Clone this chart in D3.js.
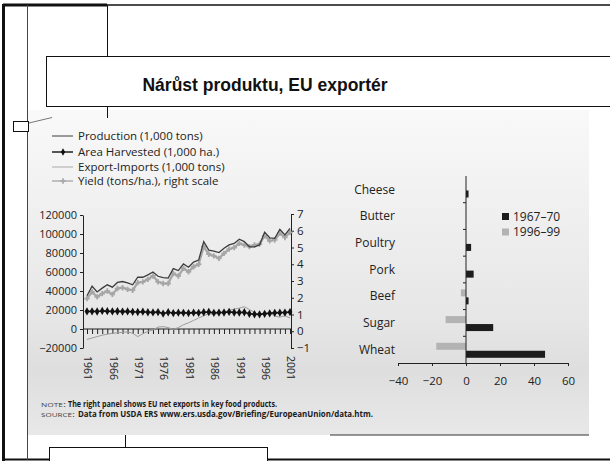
<!DOCTYPE html>
<html>
<head>
<meta charset="utf-8">
<script src="https://cdn.jsdelivr.net/npm/d3@7"></script>
<style>
  body { margin: 0; background: #fff; }
  svg { display: block; font-family: "Open Sans", sans-serif; }
</style>
</head>
<body>
<div id="chart"></div>
<script>
// ─── Data ───
const YEARS = [1961, 1962, 1963, 1964, 1965, 1966, 1967, 1968, 1969, 1970,
  1971, 1972, 1973, 1974, 1975, 1976, 1977, 1978, 1979, 1980,
  1981, 1982, 1983, 1984, 1985, 1986, 1987, 1988, 1989, 1990,
  1991, 1992, 1993, 1994, 1995, 1996, 1997, 1998, 1999, 2000, 2001];

const PRODUCTION = [35000, 45000, 39000, 43000, 46500, 44000, 49000, 50000, 48500, 46500,
  54500, 54500, 57000, 60000, 55500, 54000, 53500, 63500, 61500, 68500,
  65000, 70500, 72500, 92000, 83000, 82000, 80500, 85000, 88500, 90000,
  94500, 92000, 86500, 86500, 88500, 102000, 96000, 95500, 105000, 99000, 106000];

const AREA = [18500, 18600, 18400, 19000, 18800, 18500, 18700, 18300, 18500, 18100,
  17900, 18200, 17600, 17500, 17800, 16200, 17600, 16800, 17200, 17000,
  16800, 17200, 17000, 17600, 17900, 17000, 17300, 17400, 18000, 17400,
  17400, 17600, 16000, 15500, 15400, 16000, 16500, 17000, 17200, 17300, 17800];

const EXPORTS = [-11000, -9500, -8000, -6500, -5500, -4500, -4000, -3500, -3000, -4500,
  -8000, -5000, -2500, -1000, 2000, 2500, 1500, -500, 1500, 4500,
  6500, 9000, 11500, 14000, 16000, 15500, 16500, 18000, 19500, 21000,
  22000, 23500, 20500, 17500, 14500, 16500, 17000, 13500, 12500, 14000, 11500];

const YIELD = [1.95, 2.35, 2.05, 2.25, 2.4, 2.2, 2.55, 2.6, 2.5, 2.45,
  2.9, 2.95, 3.1, 3.3, 2.95, 2.85, 2.85, 3.45, 3.3, 3.75,
  3.55, 3.85, 4.0, 5.05, 4.6, 4.5, 4.35, 4.65, 4.9, 5.0,
  5.25, 5.15, 5.05, 5.15, 5.2, 5.7, 5.4, 5.45, 5.85, 5.6, 5.9];

const LEFT_TICKS = [-20000, 0, 20000, 40000, 60000, 80000, 100000, 120000];
const RIGHT_TICKS = [-1, 0, 1, 2, 3, 4, 5, 6, 7];
const YEAR_LABELS = [1961, 1966, 1971, 1976, 1981, 1986, 1991, 1996, 2001];
const LINE_LEGEND = [
  "Production (1,000 tons)",
  "Area Harvested (1,000 ha.)",
  "Export-Imports  (1,000 tons)",
  "Yield (tons/ha.), right scale",
];

const PRODUCTS = ["Cheese", "Butter", "Poultry", "Pork", "Beef", "Sugar", "Wheat"];
const PERIODS = ["1967–70", "1996–99"];
const NET_6770 = [1.5, 0, 3, 4.5, 1.5, 16, 46.5];
const NET_9699 = [0, 0, 0, 0, -3, -12, -17.5];
const BAR_TICKS = [-40, -20, 0, 20, 40, 60];

const W = 610, H = 461;
const INK = "#222";

const svg = d3.select("#chart").append("svg")
  .attr("width", W).attr("height", H);

// ─── Slide frame + scanned page background ───
const defs = svg.append("defs");
const grad = defs.append("linearGradient").attr("id", "scan")
  .attr("x1", 0).attr("y1", 0).attr("x2", 0).attr("y2", 1);
[[0, "#f9f9f9"], [0.3, "#f0f0f0"], [0.65, "#e6e6e6"], [0.8, "#dedede"], [1, "#e8e8e8"]]
  .forEach(([o, c]) => grad.append("stop").attr("offset", o).attr("stop-color", c));

svg.append("rect").attr("x", 28).attr("y", 110).attr("width", 561).attr("height", 325)
  .attr("fill", "url(#scan)");
svg.append("line").attr("x1", 330).attr("x2", 589).attr("y1", 435).attr("y2", 435)
  .attr("stroke", "#333").attr("stroke-width", 1);

const frame = svg.append("g").attr("fill", "none").attr("stroke", "#111");
frame.append("line").attr("x1", 3).attr("x2", 610).attr("y1", 5).attr("y2", 5).attr("stroke-width", 1.5);
frame.append("line").attr("x1", 3).attr("x2", 107).attr("y1", 5).attr("y2", 5).attr("stroke-width", 3);
frame.append("line").attr("x1", 3.5).attr("x2", 3.5).attr("y1", 4).attr("y2", 461).attr("stroke-width", 3);
frame.append("line").attr("x1", 3).attr("x2", 610).attr("y1", 459.5).attr("y2", 459.5).attr("stroke-width", 2);
frame.append("line").attr("x1", 27.5).attr("x2", 27.5).attr("y1", 5).attr("y2", 460).attr("stroke-width", 1).attr("stroke", "#444");
frame.append("line").attr("x1", 107.5).attr("x2", 107.5).attr("y1", 5).attr("y2", 56).attr("stroke-width", 1);
frame.append("line").attr("x1", 107.5).attr("x2", 107.5).attr("y1", 106).attr("y2", 118).attr("stroke-width", 1);
frame.append("rect").attr("x", 46.5).attr("y", 56.5).attr("width", 580).attr("height", 50)
  .attr("fill", "#fff").attr("stroke-width", 1);
frame.append("rect").attr("x", 13.5).attr("y", 121.5).attr("width", 15).attr("height", 10)
  .attr("fill", "#fff").attr("stroke-width", 1);
frame.append("line").attr("x1", 29).attr("y1", 123).attr("x2", 52).attr("y2", 117.5)
  .attr("stroke-width", 0.8).attr("stroke", "#555");
frame.append("line").attr("x1", 125.5).attr("x2", 125.5).attr("y1", 435).attr("y2", 447).attr("stroke-width", 1);
frame.append("rect").attr("x", 49.5).attr("y", 447.5).attr("width", 218).attr("height", 14)
  .attr("fill", "#fff").attr("stroke-width", 1);

svg.append("text")
  .attr("x", 265).attr("y", 91)
  .attr("text-anchor", "middle")
  .style("font-family", "'Liberation Sans', Arial, sans-serif")
  .style("font-weight", "bold")
  .style("font-size", "17.5px")
  .attr("fill", "#111")
  .text("Nárůst produktu, EU exportér");

// ─── Left panel: production, area, trade, yield ───
const x = d3.scaleLinear().domain([1961, 2001]).range([87, 290]);
const yL = d3.scaleLinear().domain([-20000, 120000]).range([348, 215]);
const yR = d3.scaleLinear().domain([-1, 7]).range([348, 214]);

const left = svg.append("g").style("font-size", "11px").attr("fill", INK);

function styleAxis(sel) {
  sel.select(".domain").attr("stroke", INK);
  sel.selectAll(".tick line").attr("stroke", INK);
  sel.selectAll(".tick text").attr("fill", INK)
    .style("font-family", "'Open Sans', sans-serif");
}

left.append("g").attr("transform", "translate(83,0)")
  .call(d3.axisLeft(yL).tickValues(LEFT_TICKS).tickSize(3).tickPadding(3).tickSizeOuter(0)
    .tickFormat(d3.format("d")))
  .call(styleAxis)
  .style("font-size", "11px");

left.append("g").attr("transform", "translate(291,0)")
  .call(d3.axisRight(yR).tickValues(RIGHT_TICKS).tickSize(3).tickPadding(3).tickSizeOuter(0)
    .tickFormat((d) => (d < 0 ? "−" + Math.abs(d) : d)))
  .call(styleAxis)
  .style("font-size", "11.5px");

const zeroY = yL(0);
left.append("line").attr("x1", 83).attr("x2", 291).attr("y1", zeroY).attr("y2", zeroY)
  .attr("stroke", INK);
left.append("g").attr("transform", `translate(0,${zeroY})`)
  .call(d3.axisBottom(x).tickValues(YEARS).tickSize(5).tickSizeOuter(0).tickFormat(""))
  .call((g) => g.select(".domain").remove())
  .selectAll(".tick line").attr("stroke", INK);

left.selectAll("text.year").data(YEAR_LABELS).join("text")
  .attr("class", "year")
  .attr("transform", (d) => `translate(${x(d) + 1},356) rotate(90)`)
  .attr("dy", "0.35em")
  .style("font-size", "10.5px")
  .attr("fill", INK)
  .text((d) => d);

const lineL = (vals) => d3.line().x((d, i) => x(YEARS[i])).y((d) => yL(d))(vals);
const lineR = (vals) => d3.line().x((d, i) => x(YEARS[i])).y((d) => yR(d))(vals);

left.append("path").attr("d", lineL(EXPORTS))
  .attr("fill", "none").attr("stroke", "#9c9c9c").attr("stroke-width", 1);

left.append("path").attr("d", lineR(YIELD))
  .attr("fill", "none").attr("stroke", "#a6a6a6").attr("stroke-width", 2.2);
left.selectAll("path.ym").data(YIELD).join("path")
  .attr("class", "ym")
  .attr("transform", (d, i) => `translate(${x(YEARS[i])},${yR(d)})`)
  .attr("d", d3.symbol(d3.symbolCross, 16))
  .attr("fill", "#a6a6a6");

left.append("path").attr("d", lineL(PRODUCTION))
  .attr("fill", "none").attr("stroke", "#3c3c3c").attr("stroke-width", 1.3);

left.append("path").attr("d", lineL(AREA))
  .attr("fill", "none").attr("stroke", "#111").attr("stroke-width", 1.6);
left.selectAll("path.am").data(AREA).join("path")
  .attr("class", "am")
  .attr("transform", (d, i) => `translate(${x(YEARS[i])},${yL(d)})`)
  .attr("d", d3.symbol(d3.symbolDiamond, 20))
  .attr("fill", "#111");

// legend for left panel
const legStyles = [
  { color: "#3c3c3c", width: 1, marker: null },
  { color: "#111", width: 1.4, marker: d3.symbolDiamond },
  { color: "#aaa", width: 1, marker: null },
  { color: "#aaa", width: 1.4, marker: d3.symbolCross },
];
const legY = [136, 152, 167, 181];
const leg = svg.append("g");
LINE_LEGEND.forEach((label, i) => {
  const s = legStyles[i];
  leg.append("line").attr("x1", 52).attr("x2", 73).attr("y1", legY[i]).attr("y2", legY[i])
    .attr("stroke", s.color).attr("stroke-width", s.width);
  if (s.marker) {
    leg.append("path").attr("transform", `translate(63,${legY[i]})`)
      .attr("d", d3.symbol(s.marker, 16)).attr("fill", s.color);
  }
  leg.append("text").attr("x", 78).attr("y", legY[i]).attr("dy", "0.35em")
    .style("font-size", "11.5px").attr("fill", INK).text(label);
});

// ─── Right panel: EU net exports ───
const x2 = d3.scaleLinear().domain([-40, 60]).range([398, 568]);
const y2 = d3.scaleBand().domain(PRODUCTS).range([176, 363]);
const sub = d3.scaleBand().domain(["1996–99", "1967–70"]).range([6.5, 21.5]).paddingInner(0.12);
const barColor = { "1967–70": "#1c1c1c", "1996–99": "#b3b3b3" };

const right = svg.append("g");
const barData = [];
PRODUCTS.forEach((p, i) => {
  barData.push({ p, period: "1967–70", v: NET_6770[i] });
  barData.push({ p, period: "1996–99", v: NET_9699[i] });
});

right.selectAll("rect.bar").data(barData.filter((d) => d.v !== 0)).join("rect")
  .attr("class", "bar")
  .attr("x", (d) => x2(Math.min(0, d.v)))
  .attr("width", (d) => Math.abs(x2(d.v) - x2(0)))
  .attr("y", (d) => y2(d.p) + sub(d.period))
  .attr("height", sub.bandwidth())
  .attr("fill", (d) => barColor[d.period]);

right.append("g").attr("transform", "translate(0,363)")
  .call(d3.axisBottom(x2).tickValues(BAR_TICKS).tickSize(3).tickPadding(11).tickSizeOuter(0)
    .tickFormat((d) => (d < 0 ? "−" + Math.abs(d) : d)))
  .call(styleAxis)
  .style("font-size", "11.5px");

right.append("line").attr("x1", x2(0)).attr("x2", x2(0)).attr("y1", 176).attr("y2", 363)
  .attr("stroke", INK);
right.selectAll("line.cat").data(PRODUCTS.slice(1)).join("line")
  .attr("class", "cat")
  .attr("x1", x2(0) - 3).attr("x2", x2(0))
  .attr("y1", (d) => y2(d)).attr("y2", (d) => y2(d))
  .attr("stroke", INK);

right.selectAll("text.cat").data(PRODUCTS).join("text")
  .attr("class", "cat")
  .attr("x", 395).attr("y", (d) => y2(d) + y2.bandwidth() / 2)
  .attr("dy", "0.35em").attr("text-anchor", "end")
  .style("font-size", "12px").attr("fill", INK)
  .text((d) => d);

PERIODS.forEach((p, i) => {
  const ly = 216.5 + i * 15.5;
  right.append("rect").attr("x", 502).attr("y", ly - 3.5).attr("width", 7).attr("height", 7)
    .attr("fill", barColor[p]);
  right.append("text").attr("x", 513).attr("y", ly).attr("dy", "0.35em")
    .style("font-size", "12px").attr("fill", INK).text(p);
});

// ─── Note / source ───
const notes = svg.append("g").attr("fill", "#1a1a1a");
function noteLine(y, lead, leadLen, body, bodyX, bodyLen) {
  notes.append("text").attr("x", 41).attr("y", y)
    .style("font-size", "7px").style("font-variant", "small-caps").attr("fill", "#444")
    .attr("textLength", leadLen).attr("lengthAdjust", "spacingAndGlyphs")
    .text(lead);
  notes.append("text").attr("x", bodyX).attr("y", y)
    .style("font-size", "8px").style("font-weight", "bold")
    .attr("textLength", bodyLen).attr("lengthAdjust", "spacingAndGlyphs")
    .text(body);
}
noteLine(407, "note:", 25, "The right panel shows EU net exports in key food products.", 68, 209);
noteLine(417, "source:", 34, "Data from USDA ERS www.ers.usda.gov/Briefing/EuropeanUnion/data.htm.", 78, 295);
</script>
</body>
</html>
